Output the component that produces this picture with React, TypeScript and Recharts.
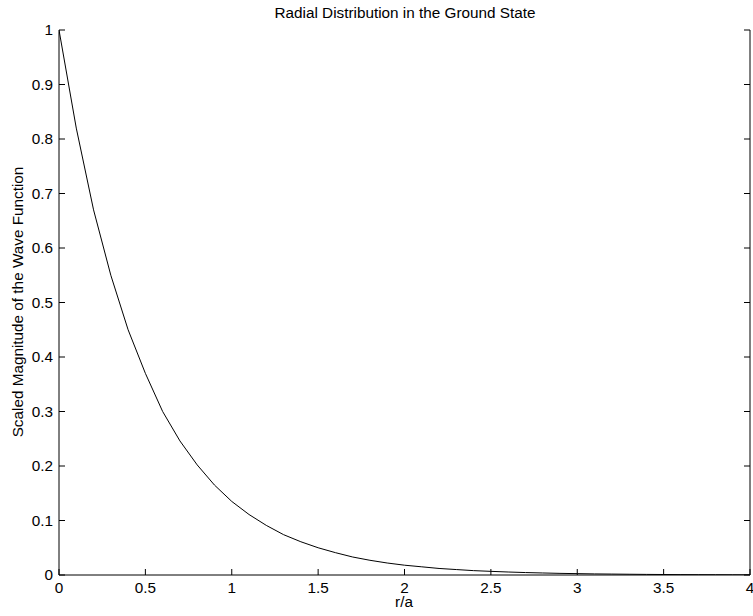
import { LineChart, Line, XAxis, YAxis } from "recharts";

const rValues = [
  0, 0.1, 0.2, 0.3, 0.4, 0.5, 0.6, 0.7, 0.8, 0.9, 1.0, 1.1, 1.2, 1.3, 1.4, 1.5,
  1.6, 1.7, 1.8, 1.9, 2.0, 2.1, 2.2, 2.3, 2.4, 2.5, 2.6, 2.7, 2.8, 2.9, 3.0,
  3.1, 3.2, 3.3, 3.4, 3.5, 3.6, 3.7, 3.8, 3.9, 4.0,
];
const magnitude = [
  1, 0.82, 0.67, 0.55, 0.45, 0.37, 0.3, 0.246, 0.202, 0.165, 0.135, 0.111,
  0.091, 0.074, 0.061, 0.05, 0.041, 0.033, 0.027, 0.022, 0.018, 0.015, 0.012,
  0.01, 0.008, 0.0067, 0.0055, 0.0045, 0.0037, 0.003, 0.0025, 0.002, 0.0017,
  0.0014, 0.0011, 0.0009, 0.0007, 0.0006, 0.0005, 0.0004, 0.0003,
];
const xTicks = [0, 0.5, 1, 1.5, 2, 2.5, 3, 3.5, 4];
const yTicks = [0, 0.1, 0.2, 0.3, 0.4, 0.5, 0.6, 0.7, 0.8, 0.9, 1];

const data = rValues.map((r, i) => ({ r, v: magnitude[i] }));

const font = "'Liberation Sans', Arial, Helvetica, sans-serif";
const FS = 15.3;

// ticks point inward, MATLAB style
function BottomTick({ x, y, payload }: any) {
  return (
    <g>
      <line x1={x} y1={y} x2={x} y2={y - 6} stroke="#000" />
      <text x={x} y={y + 18} textAnchor="middle" fontSize={FS} fontFamily={font} fill="#000">
        {payload.value}
      </text>
    </g>
  );
}
function TopTick({ x, y }: any) {
  return <line x1={x} y1={y} x2={x} y2={y + 6} stroke="#000" />;
}
function LeftTick({ x, y, payload }: any) {
  return (
    <g>
      <line x1={x} y1={y} x2={x + 6} y2={y} stroke="#000" />
      <text x={x - 6} y={y + 5} textAnchor="end" fontSize={FS} fontFamily={font} fill="#000">
        {payload.value}
      </text>
    </g>
  );
}
function RightTick({ x, y }: any) {
  return <line x1={x} y1={y} x2={x - 6} y2={y} stroke="#000" />;
}

export default function App() {
  return (
    <div style={{ position: "absolute", left: 0, top: 0, width: 753, height: 616, background: "#fff" }}>
      <LineChart
        width={753}
        height={616}
        data={data}
        margin={{ top: 30, right: 0, bottom: 0, left: 0 }}
      >
        <XAxis
          dataKey="r"
          type="number"
          domain={[0, 4]}
          ticks={xTicks}
          height={41}
          tickSize={0}
          tickMargin={0}
          axisLine={{ stroke: "#000" }}
          tickLine={false}
          tick={<BottomTick />}
          interval={0}
          allowDataOverflow
        />
        <XAxis
          xAxisId="top"
          dataKey="r"
          type="number"
          orientation="top"
          domain={[0, 4]}
          ticks={xTicks}
          height={0}
          tickSize={0}
          tickMargin={0}
          axisLine={{ stroke: "#000" }}
          tickLine={false}
          tick={<TopTick />}
          interval={0}
          allowDataOverflow
        />
        <YAxis
          type="number"
          domain={[0, 1]}
          ticks={yTicks}
          width={59}
          tickSize={0}
          tickMargin={0}
          axisLine={{ stroke: "#000" }}
          tickLine={false}
          tick={<LeftTick />}
          interval={0}
          allowDataOverflow
        />
        <YAxis
          yAxisId="right"
          type="number"
          orientation="right"
          domain={[0, 1]}
          ticks={yTicks}
          width={3}
          tickSize={0}
          tickMargin={0}
          axisLine={{ stroke: "#000" }}
          tickLine={false}
          tick={<RightTick />}
          interval={0}
          allowDataOverflow
        />
        <Line
          type="linear"
          dataKey="v"
          stroke="#000"
          strokeWidth={1}
          dot={false}
          isAnimationActive={false}
        />
      </LineChart>
      <svg
        width={753}
        height={616}
        style={{ position: "absolute", left: 0, top: 0, pointerEvents: "none" }}
      >
        <text x={405} y={18} textAnchor="middle" fontSize={FS} fontFamily={font} fill="#000">
          Radial Distribution in the Ground State
        </text>
        <text x={404} y={607} textAnchor="middle" fontSize={FS} fontFamily={font} fill="#000">
          r/a
        </text>
        <text
          x={23}
          y={302}
          textAnchor="middle"
          fontSize={FS}
          fontFamily={font}
          fill="#000"
          transform="rotate(-90 23 302)"
        >
          Scaled Magnitude of the Wave Function
        </text>
      </svg>
    </div>
  );
}
